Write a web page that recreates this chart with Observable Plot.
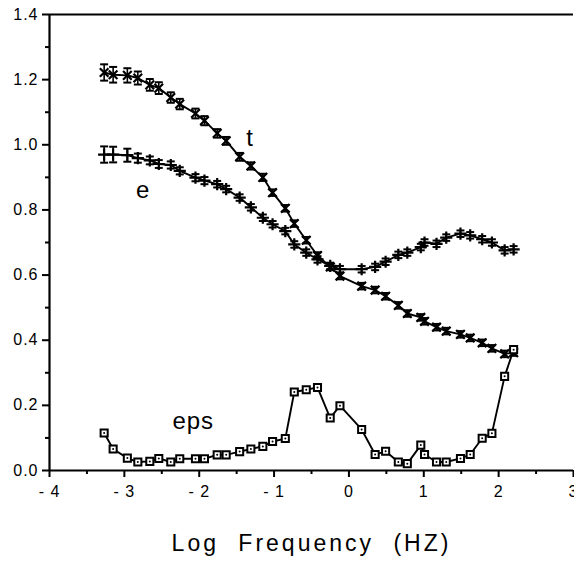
<!DOCTYPE html>
<html><head><meta charset="utf-8">
<script src="https://cdn.jsdelivr.net/npm/d3@7"></script>
<script src="https://cdn.jsdelivr.net/npm/@observablehq/plot@0.6"></script>
<style>
html,body{margin:0;padding:0;background:#fff;}
#chart svg{display:block;}
.ticklab text{letter-spacing:1px;}
</style></head><body><div id="chart"></div>
<script>
const logFreq = [-3.27,-3.15,-2.96,-2.82,-2.66,-2.54,-2.38,-2.26,-2.05,-1.93,-1.76,-1.64,-1.46,-1.31,-1.15,-1.02,-0.85,-0.73,-0.57,-0.42,-0.25,-0.12,0.17,0.35,0.49,0.66,0.78,0.96,1.01,1.17,1.30,1.49,1.62,1.78,1.91,2.08,2.20];
const tValues = [1.222,1.215,1.213,1.205,1.184,1.174,1.145,1.125,1.096,1.074,1.035,1.012,0.963,0.935,0.900,0.853,0.805,0.758,0.707,0.660,0.625,0.597,0.566,0.554,0.535,0.507,0.482,0.470,0.458,0.440,0.428,0.418,0.407,0.392,0.375,0.358,0.362];
const tErrors = [0.025,0.024,0.022,0.020,0.018,0.018,0.016,0.016,0.015,0.014,0.013,0.012,0.012,0.011,0.011,0.010,0.010,0.010,0.010,0.010,0.010,0.010,0.010,0.010,0.010,0.010,0.010,0.010,0.010,0.010,0.010,0.010,0.010,0.010,0.010,0.010,0.010];
const eValues = [0.970,0.970,0.968,0.959,0.952,0.941,0.938,0.920,0.899,0.890,0.879,0.864,0.838,0.808,0.776,0.756,0.735,0.694,0.669,0.648,0.628,0.618,0.618,0.625,0.641,0.662,0.669,0.686,0.700,0.696,0.715,0.727,0.722,0.710,0.700,0.676,0.679];
const eErrors = [0.025,0.024,0.020,0.014,0.012,0.012,0.011,0.011,0.011,0.011,0.010,0.010,0.010,0.010,0.010,0.010,0.010,0.010,0.010,0.010,0.010,0.010,0.010,0.010,0.010,0.010,0.010,0.010,0.010,0.010,0.010,0.010,0.010,0.010,0.010,0.010,0.010];
const epsValues = [0.115,0.066,0.038,0.026,0.028,0.037,0.026,0.036,0.036,0.036,0.048,0.048,0.058,0.066,0.074,0.089,0.098,0.241,0.248,0.255,0.161,0.199,0.126,0.049,0.059,0.026,0.021,0.078,0.049,0.026,0.026,0.037,0.049,0.099,0.114,0.289,0.371];
const xTicks = [-4,-3,-2,-1,0,1,2,3];
const xMinorTicks = [-3.5,-2.5,-1.5,-0.5,0.5,1.5,2.5];
const yTicks = [0,0.2,0.4,0.6,0.8,1.0,1.2,1.4];
const yMinorTicks = [0.1,0.3,0.5,0.7,0.9,1.1,1.3];
const seriesNames = ["t","e","eps"];
const seriesLabelX = [-1.32,-2.75,-2.08];
const seriesLabelY = [1.02,0.86,0.15];
const axisLabel = "Log Frequency (HZ)";

const rows = logFreq.map((x,i)=>({x,t:tValues[i],te:tErrors[i],e:eValues[i],ee:eErrors[i],eps:epsValues[i]}));
const labels = seriesNames.map((s,i)=>({s,x:seriesLabelX[i],y:seriesLabelY[i]}));
const hline = {draw(ctx,size){const w=Math.sqrt(size)/2;ctx.moveTo(-w,0);ctx.lineTo(w,0);}};

function errMarks(key, ekey){
  return [
    Plot.ruleX(rows,{x:"x",y1:d=>d[key]-d[ekey],y2:d=>d[key]+d[ekey],stroke:"black",strokeWidth:1.6}),
    Plot.dot(rows,{x:"x",y:d=>d[key]-d[ekey],symbol:hline,r:4.5,stroke:"black",fill:"none",strokeWidth:2}),
    Plot.dot(rows,{x:"x",y:d=>d[key]+d[ekey],symbol:hline,r:4.5,stroke:"black",fill:"none",strokeWidth:2})
  ];
}

const chart = Plot.plot({
  width:574, height:572,
  marginLeft:49, marginRight:1, marginTop:14, marginBottom:102,
  style:{fontFamily:"'Liberation Sans', Arial, sans-serif", fontSize:"16px", color:"black", background:"white"},
  x:{domain:[-4,3]},
  y:{domain:[0,1.4]},
  marks:[
    Plot.axisY(yTicks,{tickSize:7,tickPadding:4,tickFormat:d3.format(".1f"),strokeWidth:2,label:null,className:"ticklab"}),
    Plot.axisY(yMinorTicks,{tickSize:4,tickFormat:()=>"",strokeWidth:2,label:null}),
    Plot.axisX(xTicks,{tickSize:7,tickPadding:8,tickFormat:d=>d<0?"- "+(-d):String(d),strokeWidth:2,label:null,className:"ticklab"}),
    Plot.axisX(xMinorTicks,{tickSize:4,tickFormat:()=>"",strokeWidth:2,label:null}),
    Plot.ruleX([-4],{stroke:"black",strokeWidth:2.2}),
    Plot.ruleY([0],{stroke:"black",strokeWidth:2.2}),
    Plot.ruleY([1.4],{stroke:"black",strokeWidth:2.2}),
    Plot.line(rows,{x:"x",y:"t",stroke:"black",strokeWidth:1.9}),
    Plot.line(rows,{x:"x",y:"e",stroke:"black",strokeWidth:1.9}),
    Plot.line(rows,{x:"x",y:"eps",stroke:"black",strokeWidth:1.9}),
    ...errMarks("t","te"),
    Plot.dot(rows,{x:"x",y:"t",symbol:"times",r:4,stroke:"black",strokeWidth:2.2}),
    ...errMarks("e","ee"),
    Plot.dot(rows,{x:"x",y:"e",symbol:"plus",r:4,stroke:"black",strokeWidth:2.2}),
    Plot.dot(rows,{x:"x",y:"eps",symbol:"square",r:4,stroke:"black",strokeWidth:2,fill:"white"}),
    Plot.dot(rows,{x:"x",y:"eps",r:1,fill:"black",stroke:"none"}),
    Plot.text(labels,{x:"x",y:"y",text:"s",fontSize:24,fill:"black",className:"serieslab"}),
    Plot.text([axisLabel],{frameAnchor:"bottom",dy:80,fontSize:23,fill:"black",className:"xlab"})
  ]
});
document.getElementById("chart").appendChild(chart);
d3.selectAll(".xlab text").style("letter-spacing","3px").style("word-spacing","10px");
d3.selectAll(".serieslab text").style("letter-spacing","1px");
</script></body></html>
